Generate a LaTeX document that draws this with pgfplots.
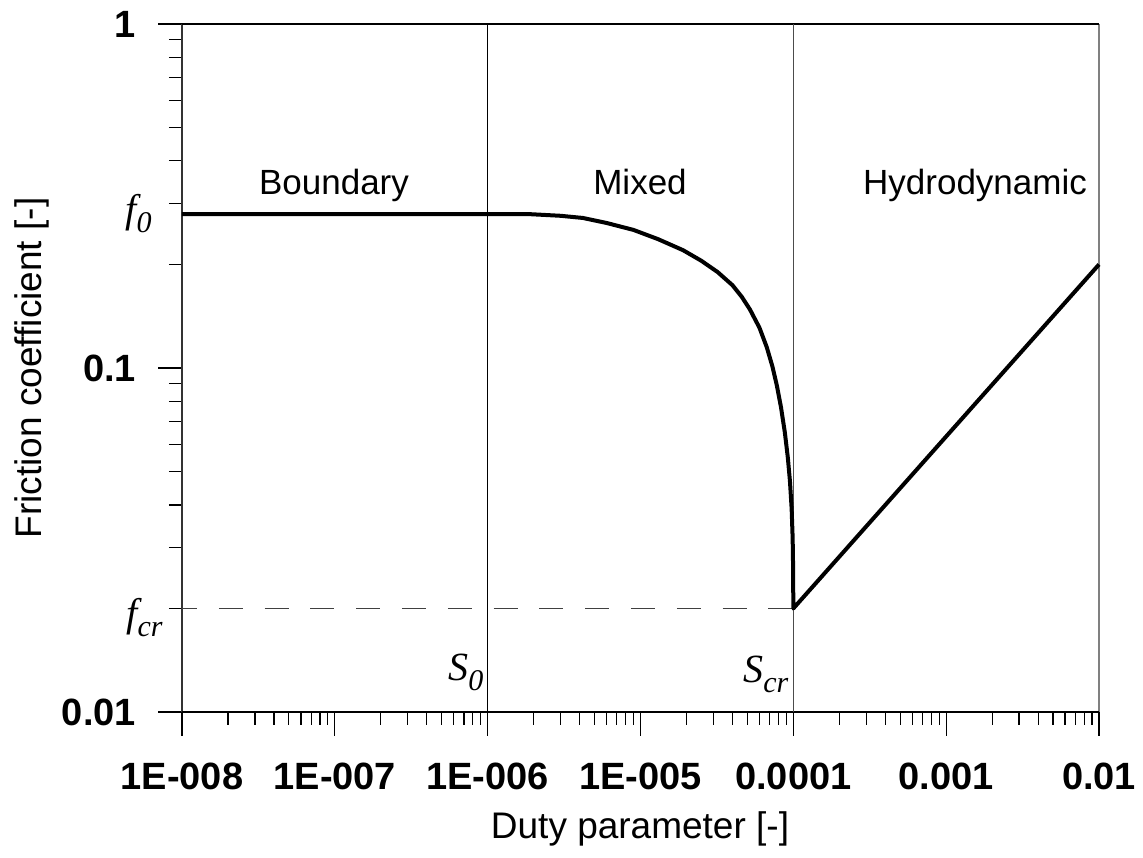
\documentclass[border=0pt]{standalone}
\usepackage{pgfplots}
\pgfplotsset{compat=1.18}
\usepackage{fontspec}
\setmainfont{Liberation Sans}
\newfontfamily\serif{Liberation Serif}
\newcommand{\sub}[1]{\raisebox{-5pt}{\fontsize{15}{15}\selectfont #1}}
\begin{document}
\begin{tikzpicture}
\useasboundingbox (-91pt,-72.5pt) rectangle (480.5pt,356pt);
\begin{axis}[
  at={(0,0)}, anchor=south west,
  scale only axis, width=458.5pt, height=344pt,
  xmode=log, ymode=log,
  xmin=1e-8, xmax=1e-2, ymin=0.01, ymax=1,
  axis line style={draw=none},
  tick pos=left,
  tick align=outside,
  major tick length=12pt, minor tick length=6.5pt,
  every tick/.style={black, line width=0.6pt},
  xtick={1e-8,1e-7,1e-6,1e-5,1e-4,1e-3,1e-2},
  xticklabels={1E-008,1E-007,1E-006,1E-005,0.0001,0.001,0.01},
  ytick={0.01,0.1,1},
  yticklabels={0.01,0.1,1},
  tick label style={font=\fontsize{19}{19}\selectfont\bfseries},
  xticklabel style={yshift=-10pt},
  yticklabel style={xshift=-7.5pt},
  /pgf/number format/assume math mode=true,
  clip=false,
]
% frame
\draw[black!80, line width=1pt] (rel axis cs:0,0) -- (rel axis cs:0,1);
\draw[black!50, line width=1.2pt] (rel axis cs:1,0) -- (rel axis cs:1,1);
\draw[black, line width=0.8pt] (rel axis cs:0,1) -- (rel axis cs:1,1);
\draw[black, line width=0.8pt] (rel axis cs:0,0) -- (rel axis cs:1,0);
% regime boundaries
\addplot[black, line width=0.6pt] coordinates {(1e-6,0.01) (1e-6,1)};
\addplot[black!70, line width=0.6pt] coordinates {(1e-4,0.01) (1e-4,1)};
% f_cr dashed
\addplot[black!75, line width=0.7pt, dash pattern=on 12pt off 10.9pt, dash phase=4.5pt] coordinates {(1e-8,0.02) (1e-4,0.02)};
% Stribeck curve
\addplot[black, line width=2pt, line join=round] coordinates {
(1e-8,0.28) (1e-6,0.28) (1.9e-6,0.28) (3e-6,0.277) (4.2e-6,0.273) (6e-6,0.264)
(9e-6,0.252) (1.3e-5,0.237) (1.9e-5,0.220) (2.5e-5,0.205) (3.2e-5,0.190)
(4e-5,0.174) (4.6e-5,0.161) (5.2e-5,0.148) (6e-5,0.131) (6.7e-5,0.115)
(7.3e-5,0.101) (7.8e-5,0.089) (8.3e-5,0.077) (8.8e-5,0.065) (9.2e-5,0.055)
(9.5e-5,0.047) (9.75e-5,0.039) (9.9e-5,0.032) (9.97e-5,0.026) (1e-4,0.02)
(1e-2,0.2)
};
\end{axis}
% region labels
\node[anchor=base, font=\fontsize{17.5}{17.5}\selectfont] at (76pt,258.5pt) {Boundary};
\node[anchor=base, font=\fontsize{17.5}{17.5}\selectfont] at (229pt,258.5pt) {Mixed};
\node[anchor=base, font=\fontsize{17.5}{17.5}\selectfont] at (396.5pt,258.5pt) {Hydrodynamic};
% symbols
\node[anchor=base east, inner sep=0pt, font=\serif\itshape\fontsize{20}{20}\selectfont] at (-15pt,244.5pt) {f\sub{0}};
\node[anchor=base east, inner sep=0pt, font=\serif\itshape\fontsize{20}{20}\selectfont] at (-9.5pt,43pt) {f\sub{cr}};
\node[anchor=base west, inner sep=0pt, font=\serif\itshape\fontsize{20}{20}\selectfont] at (133pt,16pt) {S\sub{0}};
\node[anchor=base west, inner sep=0pt, font=\serif\itshape\fontsize{20}{20}\selectfont] at (280.5pt,15pt) {S\sub{cr}};
% axis labels
\node[anchor=base, font=\fontsize{18.5}{18.5}\selectfont] at (229pt,-63pt) {Duty parameter [-]};
\node[anchor=base, rotate=90, font=\fontsize{18.5}{18.5}\selectfont] at (-70pt,172pt) {Friction coefficient [-]};
\end{tikzpicture}
\end{document}
